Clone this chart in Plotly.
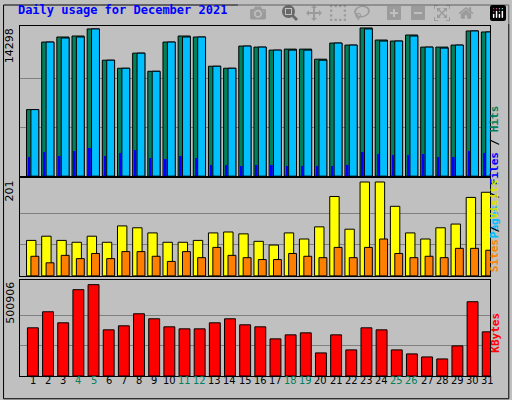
import plotly.graph_objects as go

days = list(range(1, 32))
hits_px = [110,43,38,37,30,61,69,54,72,43,37,38,67,69,47,48,51,50,50,60,44,46,29,41,42,36,48,48,46,32,33]
files_px = [110,43,39,38,30,61,69,54,72,43,38,38,67,69,47,48,51,51,51,61,44,46,30,42,42,37,48,49,46,32,33]
pages_px = [157,152,156,151,148,156,153,150,158,159,156,158,165,165,166,165,165,166,166,166,166,165,152,154,155,155,154,157,157,151,153]
visits_px = [241,237,241,243,237,243,227,229,234,243,243,241,234,233,235,242,246,234,240,228,198,230,184,184,208,234,240,229,225,199,194]
sites_px = [257,263,256,259,254,259,252,252,257,262,252,258,248,256,258,260,260,254,257,258,248,258,248,240,254,258,257,258,249,249,251]
kb_px = [327,311,322,289,284,329,325,313,318,326,328,328,322,318,324,326,338,334,332,352,334,349,327,329,349,353,356,358,345,301,331]

hits = [round((176 - y) / 146 * 14298) for y in hits_px]
files = [round((176 - y) / 146 * 14298) for y in files_px]
pages = [round((176 - y) / 146 * 14298) for y in pages_px]
visits = [round((276 - y) / 92 * 201) for y in visits_px]
sites = [round((276 - y) / 92 * 201) for y in sites_px]
kbytes = [round((375 - y) / 91 * 500906) for y in kb_px]
weekend = {4, 5, 11, 12, 18, 19, 25, 26}

fig = go.Figure()
L = dict(color="black", width=1)
fig.add_bar(x=days, y=hits, offset=-0.42, width=0.8, marker=dict(color="#00805C", line=L), xaxis="x", yaxis="y")
fig.add_bar(x=days, y=files, offset=-0.13, width=0.52, marker=dict(color="#00BFFF", line=L), xaxis="x", yaxis="y")
fig.add_bar(x=days, y=pages, offset=-0.3, width=0.12, marker=dict(color="#0000FF", line=dict(width=0)), xaxis="x", yaxis="y")
fig.add_bar(x=days, y=visits, offset=-0.42, width=0.62, marker=dict(color="#FFFF00", line=L), xaxis="x2", yaxis="y2")
fig.add_bar(x=days, y=sites, offset=-0.13, width=0.52, marker=dict(color="#FF8000", line=L), xaxis="x2", yaxis="y2")
fig.add_bar(x=days, y=kbytes, offset=-0.36, width=0.72, marker=dict(color="#FF0000", line=L), xaxis="x3", yaxis="y3")

xr = [0.15, 31.15]
ax = dict(range=xr, showticklabels=False, showgrid=False, zeroline=False, showline=True, linecolor="black", mirror=True, fixedrange=True)
fig.update_layout(
    width=512, height=400, barmode="overlay", showlegend=False,
    paper_bgcolor="#C0C0C0", plot_bgcolor="#C0C0C0",
    margin=dict(l=20, r=22, t=26, b=24),
    xaxis=dict(ax, anchor="y"), xaxis2=dict(ax, anchor="y2"), xaxis3=dict(ax, anchor="y3"),
    yaxis=dict(domain=[0.571, 1.0], range=[0, 14298 * 1.02], tickvals=[14298/3, 2*14298/3], showticklabels=False,
               gridcolor="#808080", zeroline=False, showline=True, linecolor="black", mirror=True),
    yaxis2=dict(domain=[0.286, 0.565], range=[0, 201 * 1.04], tickvals=[201/3, 2*201/3], showticklabels=False,
                gridcolor="#808080", zeroline=False, showline=True, linecolor="black", mirror=True),
    yaxis3=dict(domain=[0.0, 0.274], range=[0, 500906 * 1.05], tickvals=[500906/3, 2*500906/3], showticklabels=False,
                gridcolor="#808080", zeroline=False, showline=True, linecolor="black", mirror=True),
    font=dict(family="DejaVu Sans", size=11, color="black"),
    title=dict(text="<b>Daily usage for December 2021</b>", x=0.035, xanchor="left", y=0.985, yanchor="top",
               font=dict(family="DejaVu Sans Mono", size=12, color="#0000FF")),
)

ann = []
for d in days:
    ann.append(dict(text=str(d), x=d, y=0, xref="x3", yref="paper", yshift=-13, showarrow=False,
                    font=dict(family="Liberation Sans Narrow, DejaVu Sans Condensed, Liberation Sans", size=11,
                              color="#00805C" if d in weekend else "black")))
for txt, yy in [("14298", 1.0), ("201", 0.565), ("500906", 0.274)]:
    ann.append(dict(text=txt, x=-0.022, y=yy, xref="paper", yref="paper", xanchor="center", yanchor="top",
                    textangle=-90, showarrow=False, font=dict(size=11)))
mono = dict(family="DejaVu Sans Mono", size=11)
ann.append(dict(text='<b><span style="color:#00BFFF">Pages</span> / <span style="color:#0000FF">Files</span> / <span style="color:#00805C">Hits</span></b>',
                x=1.028, y=0.78, xref="paper", yref="paper", textangle=-90, showarrow=False, font=mono))
ann.append(dict(text='<b><span style="color:#FF8000">Sites</span> / <span style="color:#E0E000">Visits</span></b>',
                x=1.028, y=0.43, xref="paper", yref="paper", textangle=-90, showarrow=False, font=mono))
ann.append(dict(text='<b><span style="color:#FF0000">KBytes</span></b>',
                x=1.028, y=0.06, xref="paper", yref="paper", textangle=-90, showarrow=False, font=mono))
fig.update_layout(annotations=ann)
fig.add_shape(type="rect", xref="paper", yref="paper", x0=-0.035, x1=1.04, y0=-0.065, y1=1.06,
              line=dict(color="black", width=1), layer="below")
fig.write_html("out.html", post_script="document.body.style.margin='0';document.body.style.overflow='hidden';")
